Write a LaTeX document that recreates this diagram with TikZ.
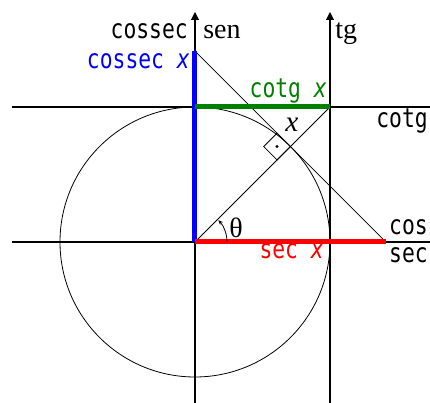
\documentclass[tikz,border=0pt]{standalone}
\usepackage{fontspec}
\setmainfont{Liberation Serif}
\newfontfamily\lab{DejaVu Sans Mono}
\usetikzlibrary{arrows.meta,calc}
\definecolor{cblue}{RGB}{0,0,255}
\definecolor{cgreen}{RGB}{0,128,0}
\definecolor{cred}{RGB}{255,0,0}
\begin{document}
\begin{tikzpicture}[x=0.75pt,y=-0.75pt,
  axisline/.style={line width=0.8pt},
  fine/.style={line width=0.6pt},
  seg/.style={line width=3.75pt},
  axarrow/.style={-{Triangle[length=6pt,width=6pt]}},
  lbl/.style={inner sep=0pt,anchor=base east,yscale=1.25,transform shape,font=\lab\fontsize{16}{18}\selectfont},
  lowcase/.style={text height=1.15ex,text depth=0pt},
  slbl/.style={inner sep=0pt,anchor=base west,font=\fontsize{21}{23}\selectfont}]
\useasboundingbox (0,0) rectangle (430,403);
% key points
\coordinate (O) at (195,242);
\coordinate (T) at (330,107);
\coordinate (C) at (195,51.1);
\coordinate (S) at (385.9,242);
\coordinate (K) at (195,107);
\coordinate (P) at (290.46,146.54);
\coordinate (Q) at (277.06,146.54);
\coordinate (Ytop) at (195,12);
\coordinate (Ybot) at (195,403);
\coordinate (Ttop) at (330,12);
\coordinate (Tbot) at (330,403);
\coordinate (Xl) at (12,242);
\coordinate (Xr) at (430,242);
\coordinate (Ll) at (12,107);
\coordinate (Lr) at (430,107);
\coordinate (A0) at (227,242);
% circle
\draw[fine] (O) circle (135);
% axes
\draw[axisline] (Xl) -- (Xr);
\draw[axisline] (Ll) -- (Lr);
\draw[axisline,axarrow] (Ybot) -- (Ytop);
\draw[axisline,axarrow] (Tbot) -- (Ttop);
% radial and tangent lines
\draw[fine] (O) -- (T);
\draw[fine] (C) -- (S);
% coloured segments
\draw[seg,cblue] (O) -- (C);
\draw[seg,cgreen] (K) -- (T);
\draw[seg,cred] (O) -- (S);
% right angle mark
\draw[fine] (P) -- ++(-13.4,13.4) -- ++(-13.4,-13.4) -- ++(13.4,-13.4) -- cycle;
\fill (Q) circle (1.6);
% angle arc
\draw[fine,-{Stealth[length=3.5pt,width=3pt]}] (A0) arc[start angle=0,end angle=-43,radius=32];
% labels
\node[lbl] (lcossec) at (188,39) {cossec};
\node[slbl] (lsen) at (203,39) {sen};
\node[slbl] (ltg) at (335,39) {tg};
\node[lbl,text=cblue] (lcx) at (190,69) {cossec \textit{x}};
\node[lbl,text=cgreen] (lctx) at (327,98) {cotg \textit{x}};
\node[inner sep=0pt,font=\fontsize{22}{24}\selectfont\itshape] (lx) at (292,125) {x};
\node[lbl] (lcotg) at (428,128) {cotg};
\node[lbl,lowcase] (lcos) at (428,235) {cos};
\node[lbl,lowcase] (lsec) at (428,263) {sec};
\node[lbl,text=cred] (lsx) at (324,259) {sec \textit{x}};
\node[inner sep=0pt,font=\fontsize{21}{23}\selectfont] (lth) at (236,228) {θ};
\end{tikzpicture}
\end{document}
